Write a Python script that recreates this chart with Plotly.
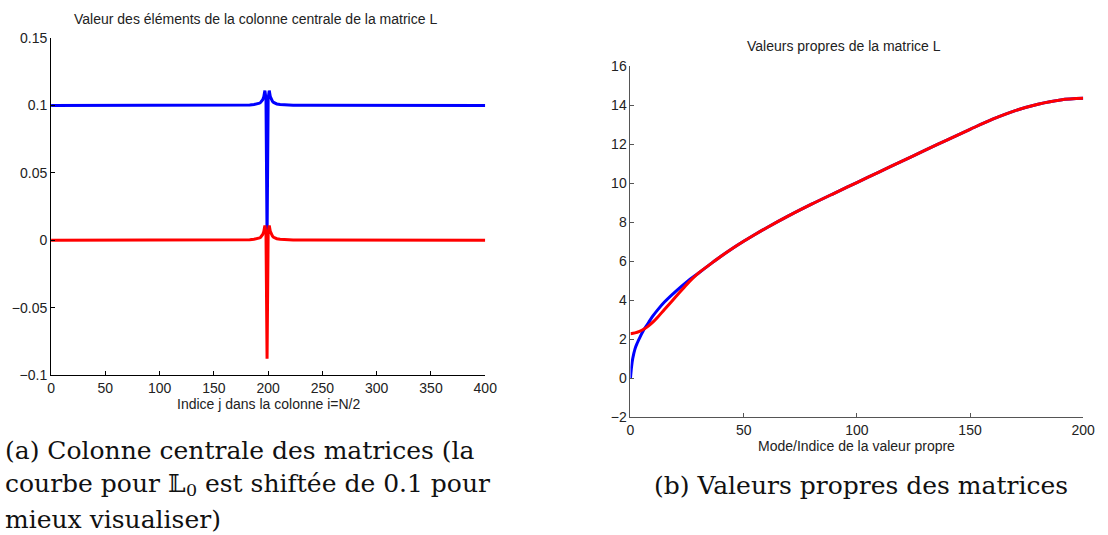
import plotly.graph_objects as go

# ---------- (a) colonne centrale (i = N/2) ----------
j_index = [0, 100, 159, 175, 183, 187, 190, 192, 193, 194, 195, 196, 197, 198, 199,
           200, 201, 202, 203, 204, 205, 206, 208, 211, 215, 223, 239, 300, 400]
col_L = [0, 0, 0.0001, 0.0002, 0.0004, 0.0007, 0.0011, 0.0017, 0.0022, 0.003,
         0.0042, 0.0065, 0.011, 0.005, -0.088, 0.005, 0.011, 0.0065, 0.0042, 0.003,
         0.0022, 0.0017, 0.0011, 0.0007, 0.0004, 0.0002, 0.0001, 0, 0]
col_L0 = [0, 0, 0.0001, 0.0002, 0.0004, 0.0007, 0.0011, 0.0017, 0.0022, 0.003,
          0.0042, 0.0065, 0.011, 0.005, -0.1, 0.005, 0.011, 0.0065, 0.0042, 0.003,
          0.0022, 0.0017, 0.0011, 0.0007, 0.0004, 0.0002, 0.0001, 0, 0]
L0_SHIFT = 0.1

# ---------- (b) valeurs propres ----------
mode_L0 = [0, 0.5, 1, 2, 3, 4, 6, 8, 10, 12, 15, 20, 25, 30, 35, 40, 45, 50, 55,
           60, 70, 80, 90, 100, 110, 120, 130, 140, 150, 160, 170, 180, 190, 200]
vp_L0 = [0, 0.6, 1.0, 1.5, 1.8, 2.05, 2.5, 2.85, 3.2, 3.5, 3.9, 4.45, 4.95, 5.38,
         5.82, 6.25, 6.65, 7.02, 7.37, 7.7, 8.33, 8.92, 9.48, 10.03, 10.58, 11.13,
         11.68, 12.22, 12.76, 13.28, 13.72, 14.05, 14.27, 14.35]
mode_L = [0, 2, 4, 6, 8, 10, 12, 15, 20, 25, 30, 35, 40, 45, 50, 55, 60, 70, 80,
          90, 100, 110, 120, 130, 140, 150, 160, 170, 180, 190, 200]
vp_L = [2.28, 2.32, 2.4, 2.52, 2.68, 2.88, 3.12, 3.52, 4.17, 4.82, 5.38, 5.82,
        6.25, 6.65, 7.02, 7.37, 7.7, 8.33, 8.92, 9.48, 10.03, 10.58, 11.13, 11.68,
        12.22, 12.76, 13.28, 13.72, 14.05, 14.27, 14.35]

x_ticks_a = [0, 50, 100, 150, 200, 250, 300, 350, 400]
y_ticks_a = [-0.1, -0.05, 0, 0.05, 0.1, 0.15]
y_labels_a = ["\u22120.1", "\u22120.05", "0", "0.05", "0.1", "0.15"]
x_ticks_b = [0, 50, 100, 150, 200]
y_ticks_b = [-2, 0, 2, 4, 6, 8, 10, 12, 14, 16]
y_labels_b = ["\u22122"] + [str(v) for v in y_ticks_b[1:]]

BLUE = "#0000ff"
RED = "#ff0000"
SANS = "Liberation Sans, Arial, sans-serif"
SERIF = "DejaVu Serif, serif"
TXT = "#222222"
FS = 14

fig = go.Figure()
fig.add_trace(go.Scatter(x=j_index, y=[v + L0_SHIFT for v in col_L0], mode="lines",
                         line=dict(color=BLUE, width=3), xaxis="x", yaxis="y"))
fig.add_trace(go.Scatter(x=j_index, y=col_L, mode="lines",
                         line=dict(color=RED, width=3), xaxis="x", yaxis="y"))
fig.add_trace(go.Scatter(x=mode_L0, y=vp_L0, mode="lines", line_shape="spline",
                         line=dict(color=BLUE, width=3), xaxis="x2", yaxis="y2"))
fig.add_trace(go.Scatter(x=mode_L, y=vp_L, mode="lines", line_shape="spline",
                         line=dict(color=RED, width=3), xaxis="x2", yaxis="y2"))

axis_common = dict(showgrid=False, zeroline=False, ticks="inside", ticklen=4,
                   tickwidth=1, showline=True, mirror=False,
                   tickfont=dict(family=SANS, size=FS, color=TXT))

fig.update_layout(
    width=1108, height=535,
    margin=dict(l=0, r=0, t=0, b=0),
    paper_bgcolor="white", plot_bgcolor="white",
    showlegend=False,
    xaxis=dict(domain=[0.0431, 0.4407], range=[0, 400], tickvals=x_ticks_a,
               linecolor="black", tickcolor="black", anchor="y", **axis_common),
    yaxis=dict(domain=[0.2929, 0.9421], range=[-0.1, 0.15], tickvals=y_ticks_a,
               ticktext=y_labels_a, linecolor="black", tickcolor="black",
               anchor="x", **axis_common),
    xaxis2=dict(domain=[0.5737, 0.9883], range=[0, 200], tickvals=x_ticks_b,
                linecolor="#555555", tickcolor="#555555", anchor="y2", **axis_common),
    yaxis2=dict(domain=[0.2118, 0.8879], range=[-2, 16], tickvals=y_ticks_b,
                ticktext=y_labels_b, linecolor="#555555", tickcolor="#555555",
                anchor="x2", **axis_common),
)

def txt(x, y, s, size, family=SANS, xanchor="center", color=TXT):
    fig.add_annotation(x=x, y=y, xref="paper", yref="paper", text=s,
                       showarrow=False, xanchor=xanchor, yanchor="middle",
                       borderpad=0, font=dict(family=family, size=size, color=color))

H, W = 535.0, 1108.0
# subplot titles and axis labels
txt(255 / W, 1 - 11 / H, "Valeur des éléments de la colonne centrale de la matrice L", FS)
txt(268 / W, 1 - 408 / H, "Indice j dans la colonne i=N/2", FS)
txt(852 / W, 1 - 39 / H, "Valeurs propres de la matrice L", FS)
txt(865 / W, 1 - 451 / H, "Mode/Indice de la valeur propre", FS)

# sub-figure captions
cap = 25
CAPC = "#111111"
txt(0, 1 - 456 / H, "(a) Colonne centrale des matrices (la", cap, SERIF, "left", CAPC)
# second line: the subscript of L0 is set as its own smaller, lowered text
txt(0, 1 - 490 / H, "courbe pour \U0001D543", cap, SERIF, "left", CAPC)
txt(184 / W, 1 - 497 / H, "0", 17.5, SERIF, "left", CAPC)
txt(203 / W, 1 - 490 / H, "est shiftée de 0.1 pour", cap, SERIF, "left", CAPC)
txt(0, 1 - 527 / H, "mieux visualiser)", cap, SERIF, "left", CAPC)
txt(870 / W, 1 - 492 / H, "(b) Valeurs propres des matrices", cap, SERIF, "center", CAPC)

fig.write_html("out.html")
